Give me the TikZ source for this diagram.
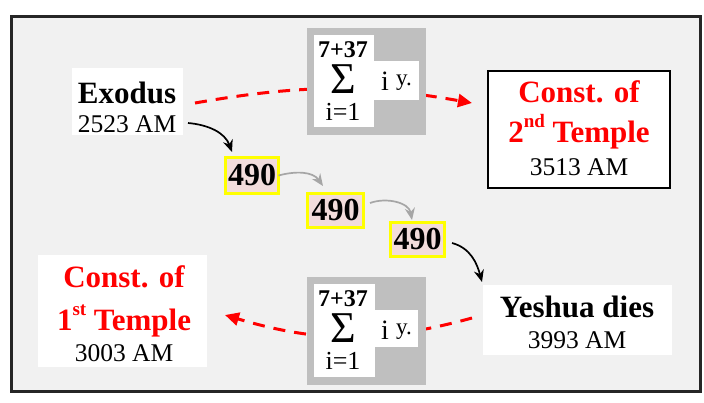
\documentclass[tikz,border=0pt]{standalone}
\usepackage{fontspec}
\setmainfont{Liberation Serif}
\usetikzlibrary{arrows.meta}
\definecolor{framebg}{HTML}{F1F1F1}
\definecolor{sigmagray}{HTML}{BFBFBF}
\definecolor{pinkfill}{HTML}{F2DCDB}
\definecolor{arrgray}{HTML}{A6A6A6}
\definecolor{yel}{HTML}{FFFF00}
\newcommand\titlefont{\fontsize{31}{34}\selectfont\bfseries}
\newcommand\amfont{\fontsize{25.5}{28}\selectfont}
\newcommand\supr[1]{\raisebox{15pt}{\fontsize{19}{20}\selectfont #1}}
\begin{document}
\begin{tikzpicture}[x=1pt,y=-1pt,
  plainbox/.style={fill=white, draw=none, inner sep=0pt, outer sep=0pt, anchor=north west},
  framedbox/.style={fill=white, draw=black, line width=1.5pt, inner sep=0pt, outer sep=0pt},
  sigmabox/.style={fill=sigmagray, draw=none, inner sep=0pt, outer sep=0pt, anchor=north west},
  yearbox/.style={fill=pinkfill, draw=yel, line width=3pt, inner sep=0pt, outer sep=0pt,
     font=\fontsize{32}{34}\selectfont\bfseries},
  ttl/.style={anchor=base, inner sep=0pt, font=\titlefont},
  redttl/.style={anchor=base, inner sep=0pt, font=\titlefont, text=red},
  am/.style={anchor=base, inner sep=0pt, font=\amfont},
  reddash/.style={draw=red, line width=3pt, dash pattern=on 12pt off 9pt,
     -{Triangle[length=14pt,width=13pt]}},
  blackarrow/.style={draw=black, line width=1.7pt, -{Stealth[length=12pt,width=10pt]}},
  grayarrow/.style={draw=arrgray, line width=1.7pt, -{Stealth[length=12pt,width=10pt]}},
]
\useasboundingbox (0,0) rectangle (704,402);
% frame
\node[draw=black!85, line width=3pt, fill=framebg, inner sep=0pt, outer sep=0pt,
  minimum width=688.5pt, minimum height=375pt, anchor=north west] (frame) at (11.5,16.5) {};

% main boxes
\node[plainbox, minimum width=111pt, minimum height=67pt] (exo) at (72,68) {};
\node[ttl] (exoT) at (127,103) {Exodus};
\node[am] (exoY) at (127,132) {2523 AM};

\node[framedbox, minimum width=182pt, minimum height=117pt, anchor=north west] (c2) at (488,71) {};
\node[redttl] (c2a) at (579,102) {Const. of};
\node[redttl] (c2b) at (579,142) {2\supr{nd} Temple};
\node[am] (c2y) at (579,175) {3513 AM};

\node[plainbox, minimum width=189pt, minimum height=70pt] (yes) at (483,285) {};
\node[ttl] (yesT) at (577,317) {Yeshua dies};
\node[am] (yesY) at (577,348) {3993 AM};

\node[plainbox, minimum width=169pt, minimum height=112pt] (c1) at (38,255) {};
\node[redttl] (c1a) at (124,287) {Const. of};
\node[redttl] (c1b) at (124,330) {1\supr{st} Temple};
\node[am] (c1y) at (124,361) {3003 AM};

% red dashed connectors (behind sigma boxes)
\draw[reddash] ([xshift=12pt,yshift=-1.5pt]exo.east) to[bend left=10] ([xshift=-16pt,yshift=26.5pt]c2.west);
\draw[reddash] ([xshift=-11pt,yshift=2pt]yes.west) to[bend left=16] ([xshift=18pt,yshift=-4pt]c1.east);

% sigma boxes
\node[sigmabox, minimum width=119pt, minimum height=107pt] (s1) at (307,28) {};
\node[plainbox, minimum width=60pt, minimum height=92pt] (s1w) at (314,35) {};
\node[plainbox, minimum width=49pt, minimum height=39pt] (s1i) at (370,61) {};
\node[anchor=base, inner sep=0pt, font=\fontsize{24}{26}\selectfont\bfseries] (s1top) at (343,57) {7+37};
\node[anchor=base, inner sep=0pt, font=\fontsize{44}{46}\selectfont] (s1sig) at (343,93) {Σ};
\node[anchor=base, inner sep=0pt, font=\fontsize{28}{30}\selectfont] (s1ii) at (385,90) {i};
\node[anchor=base west, inner sep=0pt, font=\fontsize{23}{25}\selectfont] (s1y) at (396,85) {y.};
\node[anchor=base, inner sep=0pt, font=\fontsize{26}{28}\selectfont] (s1bot) at (343,120) {i=1};

\node[sigmabox, minimum width=119pt, minimum height=108pt] (s2) at (307,277) {};
\node[plainbox, minimum width=61pt, minimum height=93pt] (s2w) at (314,284) {};
\node[plainbox, minimum width=47pt, minimum height=37pt] (s2i) at (371,310) {};
\node[anchor=base, inner sep=0pt, font=\fontsize{24}{26}\selectfont\bfseries] (s2top) at (343,306) {7+37};
\node[anchor=base, inner sep=0pt, font=\fontsize{44}{46}\selectfont] (s2sig) at (343,342) {Σ};
\node[anchor=base, inner sep=0pt, font=\fontsize{28}{30}\selectfont] (s2ii) at (385,339) {i};
\node[anchor=base west, inner sep=0pt, font=\fontsize{23}{25}\selectfont] (s2y) at (396,334) {y.};
\node[anchor=base, inner sep=0pt, font=\fontsize{26}{28}\selectfont] (s2bot) at (343,369) {i=1};

% 490 boxes
\node[yearbox, minimum width=53pt, minimum height=36pt] (n1) at (252,175.5) {490};
\node[yearbox, minimum width=56pt, minimum height=34pt] (n2) at (335.5,210.5) {490};
\node[yearbox, minimum width=54pt, minimum height=34pt] (n3) at (417.5,239.5) {490};

% arrows
\draw[blackarrow] ([xshift=5pt,yshift=12pt]exo.south east) to[out=-5,in=110] ([xshift=6.5pt,yshift=5.5pt]n1.north west);
\draw[grayarrow] (n1.east) to[out=15,in=125] ([xshift=15.5pt,yshift=7.5pt]n2.north west);
\draw[grayarrow] ([xshift=6.5pt,yshift=7.5pt]n2.east) to[out=20,in=100] ([xshift=21.5pt,yshift=2.5pt]n3.north west);
\draw[blackarrow] ([xshift=7.5pt,yshift=-3.5pt]n3.east) to[out=-15,in=105] ([xshift=-1pt,yshift=3pt]yes.north west);
\end{tikzpicture}
\end{document}
